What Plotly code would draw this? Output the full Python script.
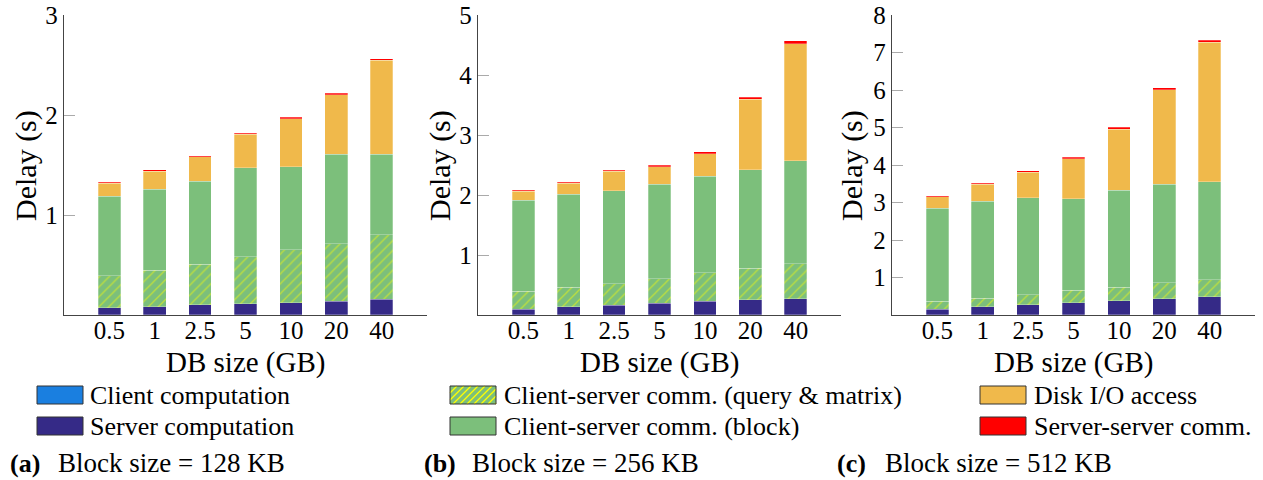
import plotly.graph_objects as go

W, H = 1263, 480

db_sizes = ["0.5", "1", "2.5", "5", "10", "20", "40"]

series_names = [
    "Client computation",
    "Server computation",
    "Client-server comm. (query & matrix)",
    "Client-server comm. (block)",
    "Disk I/O access",
    "Server-server comm.",
]

# Block size = 128 KB
client_a = [0.003, 0.003, 0.003, 0.004, 0.004, 0.004, 0.005]
server_a = [0.070, 0.080, 0.100, 0.109, 0.119, 0.135, 0.151]
query_a = [0.318, 0.365, 0.404, 0.470, 0.530, 0.574, 0.646]
block_a = [0.796, 0.808, 0.829, 0.892, 0.829, 0.895, 0.806]
disk_a = [0.129, 0.183, 0.249, 0.332, 0.480, 0.596, 0.941]
sync_a = [0.010, 0.012, 0.010, 0.012, 0.015, 0.015, 0.015]

# Block size = 256 KB
client_b = [0.004, 0.004, 0.005, 0.005, 0.005, 0.006, 0.006]
server_b = [0.095, 0.134, 0.155, 0.188, 0.227, 0.248, 0.265]
query_b = [0.293, 0.326, 0.365, 0.415, 0.475, 0.525, 0.585]
block_b = [1.520, 1.547, 1.547, 1.569, 1.602, 1.646, 1.713]
disk_b = [0.154, 0.182, 0.320, 0.293, 0.376, 1.172, 1.956]
sync_b = [0.017, 0.017, 0.022, 0.022, 0.033, 0.033, 0.044]

# Block size = 512 KB
client_c = [0.006, 0.006, 0.007, 0.007, 0.008, 0.008, 0.009]
server_c = [0.153, 0.215, 0.267, 0.320, 0.372, 0.425, 0.477]
query_c = [0.204, 0.230, 0.265, 0.327, 0.363, 0.425, 0.460]
block_c = [2.484, 2.582, 2.591, 2.449, 2.581, 2.634, 2.608]
disk_c = [0.301, 0.451, 0.672, 1.070, 1.636, 2.512, 3.714]
sync_c = [0.035, 0.035, 0.044, 0.036, 0.053, 0.053, 0.062]

y_max = [3, 5, 8]
panel_captions = ["(a)", "(b)", "(c)"]
block_sizes = ["128 KB", "256 KB", "512 KB"]

colors = ["#1A7FE0", "#352A87", "#7CBF7B", "#7CBF7B", "#F0B94B", "#FF0000"]
HATCH = "#FFFF00"

panels = [
    [client_a, server_a, query_a, block_a, disk_a, sync_a],
    [client_b, server_b, query_b, block_b, disk_b, sync_b],
    [client_c, server_c, query_c, block_c, disk_c, sync_c],
]

FONT = "Liberation Serif"


def fx(x):
    return x / W


def fy(y):
    return 1 - y / H


# pixel geometry of the three axes boxes
axis_left = [64, 478, 892]
axis_width = 363
axis_top, axis_bottom = 15, 315

fig = go.Figure()

for p, values in enumerate(panels):
    suffix = "" if p == 0 else str(p + 1)
    for s, vals in enumerate(values):
        marker = dict(color=colors[s], line=dict(color="rgba(255,255,255,0.45)", width=0.6))
        if s == 2:
            marker["pattern"] = dict(shape="/", fgcolor=HATCH, bgcolor=colors[s],
                                     size=7, solidity=0.18)
        fig.add_trace(go.Bar(
            x=db_sizes, y=vals, name=series_names[s], width=0.5,
            marker=marker, xaxis="x" + suffix, yaxis="y" + suffix,
            showlegend=False,
        ))

layout = dict(
    width=W, height=H, margin=dict(l=0, r=0, t=0, b=0, autoexpand=False),
    paper_bgcolor="white", plot_bgcolor="white",
    barmode="stack", showlegend=False,
    font=dict(family=FONT, color="black"),
)

for p in range(3):
    suffix = "" if p == 0 else str(p + 1)
    x0 = axis_left[p]
    layout["xaxis" + suffix] = dict(
        domain=[fx(x0), fx(x0 + axis_width)], anchor="y" + suffix,
        type="category", range=[-1, 7], showline=True, linecolor="#444",
        linewidth=1.3, ticks="", showgrid=False, zeroline=False,
        tickfont=dict(size=25, family=FONT), ticklabelstandoff=-7,
        automargin=False,
    )
    layout["yaxis" + suffix] = dict(
        domain=[fy(axis_bottom), fy(axis_top)], anchor="x" + suffix,
        range=[0, y_max[p]], tickvals=list(range(1, y_max[p] + 1)),
        showline=True, linecolor="#444", linewidth=1.3,
        ticks="inside", ticklen=11, tickcolor="#aaa", tickwidth=1.3,
        showgrid=False, zeroline=False, tickfont=dict(size=25, family=FONT),
        ticklabeloverflow="allow", automargin=False,
    )

fig.update_layout(**layout)

annotations = []
ylabel_x = [26, 440, 852]
for p in range(3):
    cx = axis_left[p] + axis_width / 2
    annotations.append(dict(
        x=fx(cx), y=fy(362), xref="paper", yref="paper", text="DB size (GB)",
        showarrow=False, xanchor="center", yanchor="middle",
        font=dict(size=29, family=FONT),
    ))
    annotations.append(dict(
        x=fx(ylabel_x[p]), y=fy(166), xref="paper", yref="paper", text="Delay (s)",
        showarrow=False, xanchor="center", yanchor="middle", textangle=-90,
        font=dict(size=30, family=FONT),
    ))

caption_x = [8, 422, 835]
for p in range(3):
    annotations.append(dict(
        x=fx(caption_x[p]), y=fy(463), xref="paper", yref="paper",
        text="<b>" + panel_captions[p] + "</b>", showarrow=False,
        xanchor="left", yanchor="middle", font=dict(size=26, family=FONT),
    ))
    annotations.append(dict(
        x=fx(caption_x[p] + 48), y=fy(463), xref="paper", yref="paper",
        text="Block size = " + block_sizes[p], showarrow=False,
        xanchor="left", yanchor="middle", font=dict(size=27, family=FONT),
    ))

# legend: three columns of two entries
legend_cols = [(37, 88), (450, 502), (980, 1032)]
legend_rows = [395, 426]
shapes = []
sw_w, sw_h = 46, 18
for s, name in enumerate(series_names):
    col, row = divmod(s, 2)
    sx0, tx = legend_cols[col]
    cy = legend_rows[row]
    sx1 = sx0 + sw_w
    sy0, sy1 = cy - sw_h / 2, cy + sw_h / 2
    shapes.append(dict(
        type="rect", xref="paper", yref="paper",
        x0=fx(sx0), x1=fx(sx1), y0=fy(sy1), y1=fy(sy0),
        fillcolor=colors[s], line=dict(width=0),
    ))
    if s == 2:
        segs = []
        step = 7
        k = sx0 - sw_h
        while k < sx1:
            # line rising to the right at 45 degrees, clipped to the swatch
            ax, ay = k, sy1
            bx, by = k + sw_h, sy0
            if ax < sx0:
                ay -= sx0 - ax
                ax = sx0
            if bx > sx1:
                by += bx - sx1
                bx = sx1
            if bx > ax:
                segs.append("M%.5f,%.5f L%.5f,%.5f" % (fx(ax), fy(ay), fx(bx), fy(by)))
            k += step
        shapes.append(dict(
            type="path", xref="paper", yref="paper", path=" ".join(segs),
            line=dict(color=HATCH, width=1.3),
        ))
    shapes.append(dict(
        type="rect", xref="paper", yref="paper",
        x0=fx(sx0), x1=fx(sx1), y0=fy(sy1), y1=fy(sy0),
        fillcolor="rgba(0,0,0,0)", line=dict(color="#333", width=1),
    ))
    annotations.append(dict(
        x=fx(tx), y=fy(cy), xref="paper", yref="paper", text=name,
        showarrow=False, xanchor="left", yanchor="middle",
        font=dict(size=26, family=FONT),
    ))

fig.update_layout(annotations=annotations, shapes=shapes)

fig.write_html("out.html")
